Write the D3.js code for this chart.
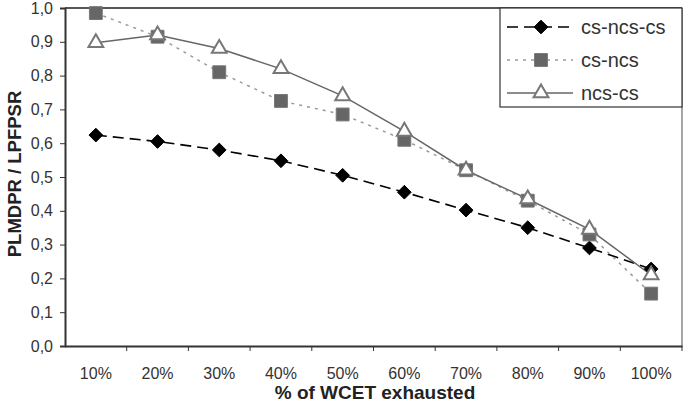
<!DOCTYPE html>
<html lang="en">
<head>
<meta charset="UTF-8" />
<title>PLMDPR / LPFPSR</title>
<style>
  body { margin: 0; background: #fff; }
  svg text { font-family: "Liberation Sans", Arial, sans-serif; }
</style>
</head>
<body>
<div class="chart"></div>
<script src="https://d3js.org/d3.v7.min.js"></script>
<script>
  // data
  const categories = ['10%', '20%', '30%', '40%', '50%', '60%', '70%', '80%', '90%', '100%'];
  const csNcsCs = [0.624, 0.605, 0.580, 0.548, 0.505, 0.455, 0.402, 0.350, 0.290, 0.228];
  const csNcs   = [0.985, 0.915, 0.810, 0.725, 0.685, 0.610, 0.520, 0.430, 0.330, 0.155];
  const ncsCs   = [0.897, 0.920, 0.880, 0.820, 0.740, 0.635, 0.520, 0.435, 0.345, 0.210];
  const yTicks = [0, 0.1, 0.2, 0.3, 0.4, 0.5, 0.6, 0.7, 0.8, 0.9, 1.0];

  const width = 689, height = 414;
  const margin = {left: 65, right: 7, top: 8, bottom: 68};

  const svg = d3.select('.chart').append('svg')
                .attr('width', width)
                .attr('height', height);

  const xScale = d3.scaleBand()
                   .domain(categories)
                   .range([margin.left, width - margin.right]);

  const yScale = d3.scaleLinear()
                   .domain([0, 1])
                   .range([height - margin.bottom, margin.top]);

  // frame: top and right
  svg.append('line')
     .attr('x1', margin.left).attr('x2', width - margin.right)
     .attr('y1', yScale(1)).attr('y2', yScale(1))
     .attr('stroke', '#555').attr('stroke-width', 2);
  svg.append('line')
     .attr('x1', width - margin.right).attr('x2', width - margin.right)
     .attr('y1', yScale(1)).attr('y2', yScale(0))
     .attr('stroke', '#888').attr('stroke-width', 1.5);

  // y axis
  const yAxis = d3.axisLeft(yScale)
                  .tickValues(yTicks)
                  .tickSize(5)
                  .tickFormat(d => d3.format('.1f')(d).replace('.', ','));
  const yG = svg.append('g')
                .attr('transform', `translate(${margin.left},0)`)
                .call(yAxis);
  yG.select('.domain').attr('stroke', '#333').attr('stroke-width', 2);
  yG.selectAll('.tick line').attr('stroke', '#333');
  yG.selectAll('text').attr('font-size', 16).attr('fill', '#333').attr('x', -12);

  // x axis, ticks on category borders
  const xAxis = d3.axisBottom(xScale).tickSize(0);
  const xG = svg.append('g')
                .attr('transform', `translate(0,${yScale(0)})`)
                .call(xAxis);
  xG.select('.domain').attr('stroke', '#333').attr('stroke-width', 2);
  xG.selectAll('text').attr('font-size', 16).attr('fill', '#333').attr('y', 33).attr('dy', 0);
  svg.append('g')
     .selectAll('line')
     .data(categories)
     .join('line')
     .attr('x1', d => xScale(d) + xScale.bandwidth())
     .attr('x2', d => xScale(d) + xScale.bandwidth())
     .attr('y1', yScale(0))
     .attr('y2', yScale(0) + 5)
     .attr('stroke', '#333');

  // axis titles
  svg.append('text')
     .attr('x', 375)
     .attr('y', 399)
     .attr('text-anchor', 'middle')
     .attr('font-size', 19)
     .attr('font-weight', 'bold')
     .attr('fill', '#222')
     .text('% of WCET exhausted');
  svg.append('text')
     .attr('transform', `translate(21,${yScale(0.5) - 3}) rotate(-90)`)
     .attr('text-anchor', 'middle')
     .attr('font-size', 18.5)
     .attr('font-weight', 'bold')
     .attr('fill', '#222')
     .text('PLMDPR / LPFPSR');

  const cx = d => xScale(d) + xScale.bandwidth() / 2;

  const series = [
    {name: 'cs-ncs-cs', values: csNcsCs, stroke: '#000', dash: '11,6', width: 1.6,
     symbol: d3.symbolDiamond2, size: 120, fill: '#000', mStroke: '#000'},
    {name: 'cs-ncs', values: csNcs, stroke: '#999', dash: '3,5', width: 1.5,
     symbol: d3.symbolSquare, size: 165, fill: '#666', mStroke: '#777'},
    {name: 'ncs-cs', values: ncsCs, stroke: '#666', dash: null, width: 1.5,
     symbol: d3.symbolTriangle, size: 95, fill: '#fff', mStroke: '#777'}
  ];

  const line = d3.line()
                 .x((d, i) => cx(categories[i]))
                 .y(d => yScale(d));

  series.forEach(s => {
    svg.append('path')
       .datum(s.values)
       .attr('d', line)
       .attr('fill', 'none')
       .attr('stroke', s.stroke)
       .attr('stroke-width', s.width)
       .attr('stroke-dasharray', s.dash);
  });

  series.forEach(s => {
    svg.append('g')
       .selectAll('path')
       .data(s.values)
       .join('path')
       .attr('transform', (d, i) => `translate(${cx(categories[i])},${yScale(d)})`)
       .attr('d', d3.symbol(s.symbol, s.size))
       .attr('fill', s.fill)
       .attr('stroke', s.mStroke)
       .attr('stroke-width', s.symbol === d3.symbolTriangle ? 2 : 1);
  });

  // legend
  const lg = svg.append('g').attr('transform', 'translate(500,8)');
  lg.append('rect')
    .attr('width', 182).attr('height', 99)
    .attr('fill', '#fff')
    .attr('stroke', '#333').attr('stroke-width', 1.2);
  series.forEach((s, i) => {
    const y = 19 + i * 33;
    lg.append('line')
      .attr('x1', 7).attr('x2', 73)
      .attr('y1', y).attr('y2', y)
      .attr('stroke', s.stroke)
      .attr('stroke-width', s.width)
      .attr('stroke-dasharray', s.dash);
    lg.append('path')
      .attr('transform', `translate(41,${y})`)
      .attr('d', d3.symbol(s.symbol, s.size))
      .attr('fill', s.fill)
      .attr('stroke', s.mStroke)
      .attr('stroke-width', s.symbol === d3.symbolTriangle ? 2 : 1);
    lg.append('text')
      .attr('x', 81).attr('y', y)
      .attr('dy', '0.35em')
      .attr('font-size', 20)
      .attr('fill', '#333')
      .text(s.name);
  });
</script>
</body>
</html>
